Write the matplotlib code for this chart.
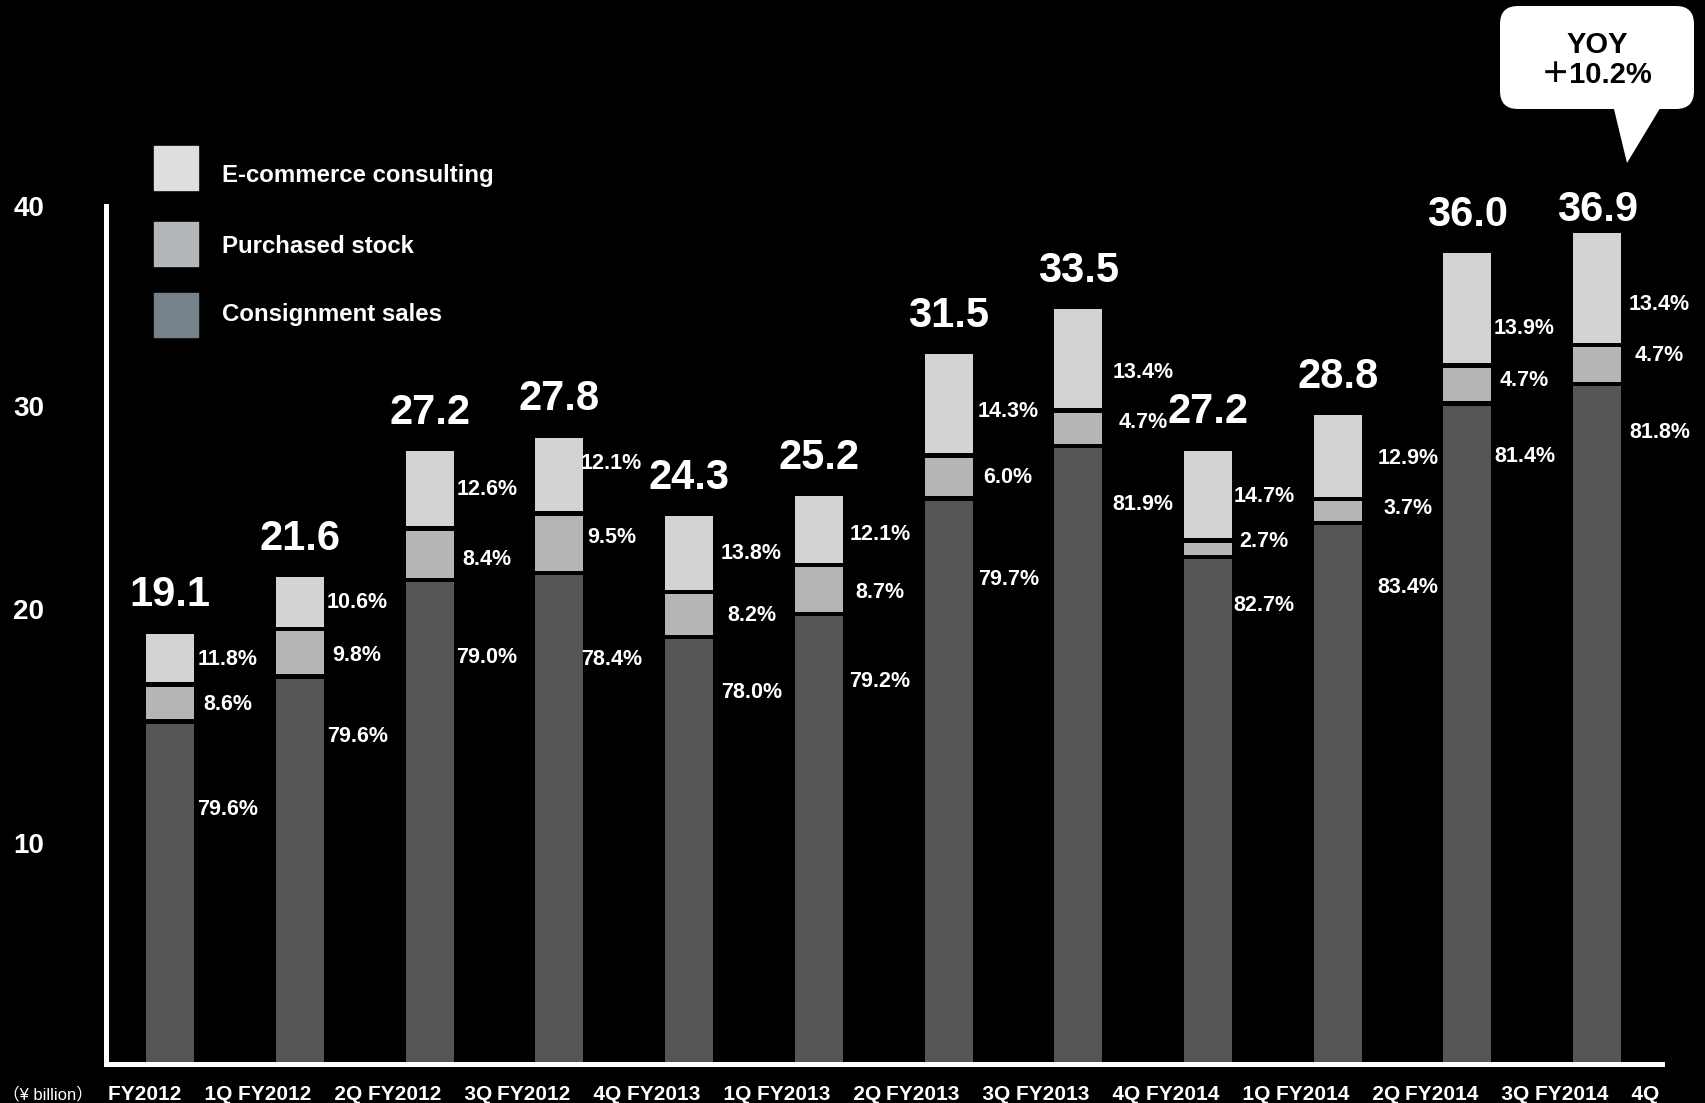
import matplotlib.pyplot as plt
from matplotlib.patches import FancyBboxPatch, Polygon, Rectangle

# Quarterly sales (¥ billion) and the share of each business line (%)
periods = ['FY2012    1Q', 'FY2012    2Q', 'FY2012    3Q', 'FY2012    4Q',
           'FY2013    1Q', 'FY2013    2Q', 'FY2013    3Q', 'FY2013    4Q',
           'FY2014    1Q', 'FY2014    2Q', 'FY2014    3Q', 'FY2014    4Q']
totals = [19.1, 21.6, 27.2, 27.8, 24.3, 25.2, 31.5, 33.5, 27.2, 28.8, 36.0, 36.9]
ecommerce_pct = [11.8, 10.6, 12.6, 12.1, 13.8, 12.1, 14.3, 13.4, 14.7, 12.9, 13.9, 13.4]
stock_pct = [8.6, 9.8, 8.4, 9.5, 8.2, 8.7, 6.0, 4.7, 2.7, 3.7, 4.7, 4.7]
consign_pct = [79.6, 79.6, 79.0, 78.4, 78.0, 79.2, 79.7, 81.9, 82.7, 83.4, 81.4, 81.8]
yoy_label = 'YOY\n＋10.2%'

# where the percentage labels sit (x offset from bar centre, y in data units)
label_dx = [0.44, 0.44, 0.44, 0.40, 0.48, 0.47, 0.46, 0.50, 0.43, 0.54, 0.44, 0.48]
ecom_label_y = [17.97, 20.48, 25.51, 26.67, 22.66, 23.48, 28.94, 30.68, 25.17, 26.86, 32.66, 33.72]
stock_label_y = [15.94, 18.12, 22.37, 23.38, 19.90, 20.92, 26.04, 28.45, 23.19, 24.64, 30.34, 31.45]
consign_label_y = [11.30, 14.54, 18.02, 17.97, 16.47, 16.96, 21.50, 24.83, 20.34, 21.16, 26.96, 28.02]
total_dy = [1.7] * 11 + [1.06]

consign = [t * p / 100 for t, p in zip(totals, consign_pct)]
stock = [t * p / 100 for t, p in zip(totals, stock_pct)]
ecom = [t * p / 100 for t, p in zip(totals, ecommerce_pct)]

C_ECOM = '#d3d3d3'
C_STOCK = '#b5b5b5'
C_CONS = '#555555'
FONT = ['Liberation Sans', 'DejaVu Sans']
FONT_CJK = ['Liberation Sans', 'Noto Sans CJK JP']

fig = plt.figure(figsize=(17.05, 11.03), dpi=100, facecolor='black')
W, H = 1705, 1103
ax = fig.add_axes([105.5 / W, 1 - 1063.8 / H, (1662 - 105.5) / W, (1063.8 - 205.6) / H])
ax.set_facecolor('black')

x = list(range(len(periods)))
gap = 0.2
bw = 0.37
ax.bar(x, [c - gap / 2 for c in consign], width=bw, color=C_CONS)
ax.bar(x, [s - gap for s in stock], width=bw, color=C_STOCK,
       bottom=[c + gap / 2 for c in consign])
ax.bar(x, [e - gap / 2 for e in ecom], width=bw, color=C_ECOM,
       bottom=[c + s + gap / 2 for c, s in zip(consign, stock)])

for i in x:
    top = consign[i] + stock[i] + ecom[i]
    ax.text(i, top + total_dy[i], f'{totals[i]:.1f}', ha='center', va='center',
            color='white', fontsize=30, fontweight='bold', family=FONT, clip_on=False)
    lx = i + label_dx[i]
    for val, ly in ((ecommerce_pct[i], ecom_label_y[i]),
                    (stock_pct[i], stock_label_y[i]),
                    (consign_pct[i], consign_label_y[i])):
        ax.text(lx, ly, f'{val:.1f}%', ha='center', va='center', color='white',
                fontsize=15.5, fontweight='bold', family=FONT)

ax.set_xlim(-0.5, 11.5)
ax.set_ylim(0, 38.1)
ax.set_xticks(x, periods)
ax.set_yticks([9.8, 20.2, 29.2, 38.1], ['10', '20', '30', '40'])
ax.tick_params(axis='both', length=0, colors='white')
ax.tick_params(axis='y', pad=44)
ax.tick_params(axis='x', pad=15)
for lbl in ax.get_yticklabels():
    lbl.set_fontsize(20)
    lbl.set_fontweight('bold')
    lbl.set_family(FONT)
for lbl in ax.get_xticklabels():
    lbl.set_fontsize(15)
    lbl.set_fontweight('bold')
    lbl.set_family(FONT)
for side in ('top', 'right'):
    ax.spines[side].set_visible(False)
for side in ('left', 'bottom'):
    ax.spines[side].set_color('white')
    ax.spines[side].set_linewidth(3.6)

# overlay in pixel coordinates for legend, unit note and the YOY callout
ov = fig.add_axes([0, 0, 1, 1], zorder=5)
ov.set_xlim(0, W)
ov.set_ylim(H, 0)
ov.axis('off')

legend_items = [('E-commerce consulting', '#dedede', 146, 182),
                ('Purchased stock', '#b4b7ba', 222, 253),
                ('Consignment sales', '#76828a', 293, 321)]
for name, col, ytop, ybase in legend_items:
    ov.add_patch(Rectangle((154, ytop), 44, 44, color=col))
    ov.text(222, ybase, name, ha='left', va='baseline', color='white',
            fontsize=17.3, fontweight='bold', family=FONT)

ov.text(3, 1094, '（¥ billion）', ha='left', va='center', color='white',
        fontsize=12, family=FONT_CJK)

ov.add_patch(FancyBboxPatch((1500, 6), 194, 103, boxstyle='round,pad=0,rounding_size=18',
                            facecolor='white', edgecolor='none'))
ov.add_patch(Polygon([(1613, 105), (1662, 105), (1627, 163)], closed=True,
                     facecolor='white', edgecolor='none'))
ov.text(1597, 60, yoy_label, ha='center', va='center', color='black', fontsize=21,
        fontweight='bold', family=FONT_CJK, linespacing=1.05)

fig.savefig('out.png', dpi=100, facecolor='black')
